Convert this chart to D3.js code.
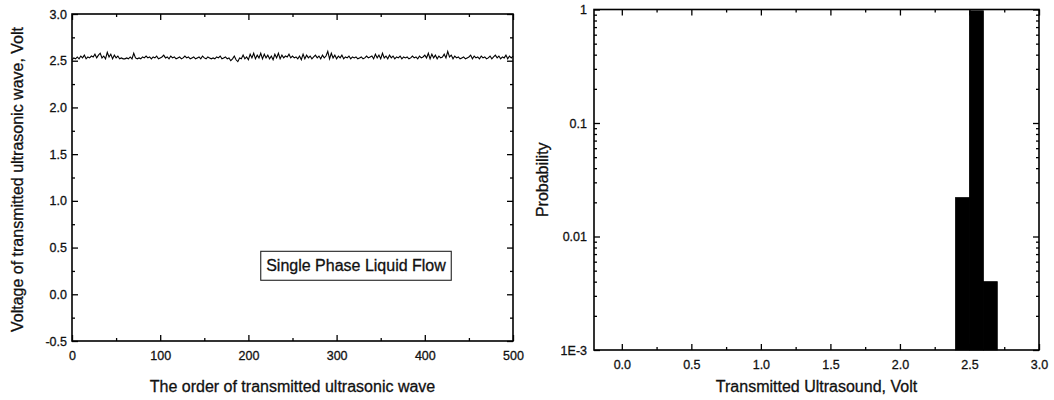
<!DOCTYPE html>
<html>
<head>
<meta charset="utf-8">
<script src="https://cdn.jsdelivr.net/npm/d3@7/dist/d3.min.js"></script>
<style>
  body { margin: 0; background: #fff; }
  svg { display: block; font-family: "Liberation Sans", Arial, sans-serif; }
  text { fill: #111; stroke: #111; stroke-width: 0.3px; }
</style>
</head>
<body>
<div id="chart"></div>
<script>
// Left panel: transmitted wave voltage, sampled every 2nd wave (0..500)
const waveStep = 2;
const waveVolts = [
  2.51,2.53,2.52,2.54,2.52,2.55,2.53,2.56,2.52,2.54,
  2.53,2.55,2.54,2.57,2.53,2.56,2.58,2.53,2.55,2.52,
  2.59,2.54,2.57,2.52,2.56,2.53,2.55,2.52,2.53,2.52,
  2.52,2.53,2.52,2.54,2.52,2.58,2.53,2.52,2.53,2.52,
  2.54,2.53,2.55,2.53,2.54,2.52,2.54,2.53,2.55,2.52,
  2.53,2.54,2.56,2.53,2.54,2.52,2.55,2.53,2.54,2.52,
  2.53,2.54,2.52,2.53,2.55,2.53,2.54,2.52,2.53,2.54,
  2.52,2.53,2.54,2.52,2.55,2.53,2.52,2.54,2.53,2.52,
  2.53,2.52,2.54,2.53,2.55,2.52,2.53,2.54,2.52,2.53,
  2.50,2.52,2.55,2.51,2.49,2.53,2.52,2.56,2.52,2.54,
  2.51,2.57,2.53,2.58,2.52,2.56,2.53,2.58,2.52,2.57,
  2.53,2.56,2.52,2.55,2.51,2.57,2.53,2.58,2.52,2.56,
  2.53,2.55,2.54,2.57,2.53,2.55,2.53,2.54,2.52,2.55,
  2.51,2.57,2.52,2.56,2.53,2.55,2.52,2.54,2.56,2.53,
  2.55,2.52,2.56,2.53,2.55,2.60,2.52,2.58,2.53,2.56,
  2.52,2.55,2.53,2.56,2.52,2.54,2.53,2.55,2.52,2.54,
  2.53,2.54,2.52,2.53,2.54,2.52,2.53,2.55,2.53,2.54,
  2.55,2.52,2.57,2.53,2.56,2.52,2.58,2.53,2.55,2.52,
  2.56,2.53,2.55,2.52,2.54,2.53,2.55,2.52,2.54,2.53,
  2.54,2.52,2.53,2.55,2.53,2.54,2.52,2.55,2.53,2.54,
  2.56,2.53,2.58,2.52,2.57,2.53,2.56,2.52,2.55,2.53,
  2.54,2.57,2.53,2.60,2.54,2.56,2.52,2.55,2.53,2.54,
  2.52,2.53,2.54,2.52,2.53,2.54,2.56,2.52,2.55,2.53,
  2.54,2.52,2.55,2.53,2.54,2.52,2.53,2.55,2.52,2.54,
  2.56,2.53,2.55,2.52,2.54,2.53,2.56,2.52,2.55,2.53,
  2.55
];
const waveXTicks = [0, 100, 200, 300, 400, 500];
const waveYTicks = [-0.5, 0.0, 0.5, 1.0, 1.5, 2.0, 2.5, 3.0];
const legendText = "Single Phase Liquid Flow";

// Right panel: probability histogram (bin edges in volts)
const binStart = [2.4, 2.5, 2.6];
const binEnd = [2.5, 2.6, 2.7];
const binProb = [0.022, 0.974, 0.004];
const probXTicks = [0.0, 0.5, 1.0, 1.5, 2.0, 2.5, 3.0];
const probYTicks = [0.001, 0.01, 0.1, 1];
const probYLabels = ["1E-3", "0.01", "0.1", "1"];

const width = 1054, height = 400;
const tickFont = 12.5, titleFont = 16;
const svg = d3.select("#chart").append("svg")
  .attr("width", width).attr("height", height);

// ---------- left panel ----------
const L = { left: 72, right: 513, top: 14, bottom: 341 };
const xL = d3.scaleLinear().domain([0, 500]).range([L.left, L.right]);
const yL = d3.scaleLinear().domain([-0.5, 3.0]).range([L.bottom, L.top]);

function styleAxis(g) {
  g.selectAll(".domain").remove();
  g.selectAll(".tick line").attr("stroke", "#000").attr("stroke-width", 1.3);
  g.selectAll("text").attr("font-size", tickFont);
}

// minor ticks first
svg.append("g").attr("transform", `translate(0,${L.bottom})`)
  .call(d3.axisBottom(xL).tickValues(d3.range(50, 500, 100)).tickSize(-3).tickFormat(""))
  .call(styleAxis);
svg.append("g").attr("transform", `translate(0,${L.top})`)
  .call(d3.axisTop(xL).tickValues(d3.range(50, 500, 100)).tickSize(-3).tickFormat(""))
  .call(styleAxis);
svg.append("g").attr("transform", `translate(${L.left},0)`)
  .call(d3.axisLeft(yL).tickValues(d3.range(-0.25, 3.0, 0.5)).tickSize(-3).tickFormat(""))
  .call(styleAxis);
svg.append("g").attr("transform", `translate(${L.right},0)`)
  .call(d3.axisRight(yL).tickValues(d3.range(-0.25, 3.0, 0.5)).tickSize(-3).tickFormat(""))
  .call(styleAxis);

// major ticks
svg.append("g").attr("transform", `translate(0,${L.bottom})`)
  .call(d3.axisBottom(xL).tickValues(waveXTicks).tickSize(-6).tickPadding(10).tickFormat(d3.format("d")))
  .call(styleAxis);
svg.append("g").attr("transform", `translate(0,${L.top})`)
  .call(d3.axisTop(xL).tickValues(waveXTicks).tickSize(-6).tickFormat(""))
  .call(styleAxis);
svg.append("g").attr("transform", `translate(${L.left},0)`)
  .call(d3.axisLeft(yL).tickValues(waveYTicks).tickSize(-6).tickPadding(5).tickFormat(d3.format(".1f")))
  .call(styleAxis)
  .call(g => g.selectAll("text").text(d => d < 0 ? "-0.5" : d3.format(".1f")(d)));
svg.append("g").attr("transform", `translate(${L.right},0)`)
  .call(d3.axisRight(yL).tickValues(waveYTicks).tickSize(-6).tickFormat(""))
  .call(styleAxis);

// frame
svg.append("rect")
  .attr("x", L.left).attr("y", L.top)
  .attr("width", L.right - L.left).attr("height", L.bottom - L.top)
  .attr("fill", "none").attr("stroke", "#000").attr("stroke-width", 1.6);

// wave line
const line = d3.line()
  .x((d, i) => xL(i * waveStep))
  .y(d => yL(d));
svg.append("path")
  .datum(waveVolts)
  .attr("d", line)
  .attr("fill", "none")
  .attr("stroke", "#000")
  .attr("stroke-width", 1.1);

// legend box
const box = { x0: 214, x1: 430, y0: 0.46, y1: 0.15 };
const lg = svg.append("g");
lg.append("rect")
  .attr("x", xL(box.x0)).attr("y", yL(box.y0))
  .attr("width", xL(box.x1) - xL(box.x0)).attr("height", yL(box.y1) - yL(box.y0))
  .attr("fill", "#fff").attr("stroke", "#222").attr("stroke-width", 1.1);
lg.append("text")
  .attr("x", (xL(box.x0) + xL(box.x1)) / 2).attr("y", (yL(box.y0) + yL(box.y1)) / 2)
  .attr("dy", "0.35em").attr("text-anchor", "middle")
  .attr("font-size", titleFont)
  .text(legendText);

// axis titles
svg.append("text")
  .attr("x", (L.left + L.right) / 2).attr("y", 386)
  .attr("dy", "0.35em").attr("text-anchor", "middle")
  .attr("font-size", titleFont)
  .text("The order of transmitted ultrasonic wave");
svg.append("text")
  .attr("transform", `translate(17,${(L.top + L.bottom) / 2 + 2}) rotate(-90)`)
  .attr("dy", "0.35em").attr("text-anchor", "middle")
  .attr("font-size", titleFont)
  .text("Voltage of transmitted ultrasonic wave, Volt");

// ---------- right panel ----------
const R = { left: 594, right: 1039, top: 9.5, bottom: 350 };
const xR = d3.scaleLinear().domain([-0.2, 3.0]).range([R.left, R.right]);
const yR = d3.scaleLog().domain([0.001, 1]).range([R.bottom, R.top]);

const minorLog = [];
[0.001, 0.01, 0.1].forEach(dec => { for (let k = 2; k <= 9; k++) minorLog.push(dec * k); });
const minorX = d3.range(-0.25, 3.0, 0.5).filter(v => v > -0.2);

// bars
svg.append("g").selectAll("rect")
  .data(binProb)
  .join("rect")
  .attr("x", (d, i) => xR(binStart[i]))
  .attr("width", (d, i) => xR(binEnd[i]) - xR(binStart[i]))
  .attr("y", d => yR(Math.min(d, 1)))
  .attr("height", d => yR(0.001) - yR(Math.min(d, 1)))
  .attr("fill", "#000")
  .attr("stroke", "#000")
  .attr("stroke-width", 0.8);

svg.append("g").attr("transform", `translate(0,${R.bottom})`)
  .call(d3.axisBottom(xR).tickValues(minorX).tickSize(-3).tickFormat(""))
  .call(styleAxis);
svg.append("g").attr("transform", `translate(0,${R.top})`)
  .call(d3.axisTop(xR).tickValues(minorX).tickSize(-3).tickFormat(""))
  .call(styleAxis);
svg.append("g").attr("transform", `translate(${R.left},0)`)
  .call(d3.axisLeft(yR).tickValues(minorLog).tickSize(-3).tickFormat(""))
  .call(styleAxis);
svg.append("g").attr("transform", `translate(${R.right},0)`)
  .call(d3.axisRight(yR).tickValues(minorLog).tickSize(-3).tickFormat(""))
  .call(styleAxis);

svg.append("g").attr("transform", `translate(0,${R.bottom})`)
  .call(d3.axisBottom(xR).tickValues(probXTicks).tickSize(-6).tickPadding(10).tickFormat(d3.format(".1f")))
  .call(styleAxis);
svg.append("g").attr("transform", `translate(0,${R.top})`)
  .call(d3.axisTop(xR).tickValues(probXTicks).tickSize(-6).tickFormat(""))
  .call(styleAxis);
svg.append("g").attr("transform", `translate(${R.left},0)`)
  .call(d3.axisLeft(yR).tickValues(probYTicks).tickSize(-6).tickPadding(7)
    .tickFormat((d, i) => probYLabels[i]))
  .call(styleAxis);
svg.append("g").attr("transform", `translate(${R.right},0)`)
  .call(d3.axisRight(yR).tickValues(probYTicks).tickSize(-6).tickFormat(""))
  .call(styleAxis);

svg.append("rect")
  .attr("x", R.left).attr("y", R.top)
  .attr("width", R.right - R.left).attr("height", R.bottom - R.top)
  .attr("fill", "none").attr("stroke", "#000").attr("stroke-width", 1.6);

svg.append("text")
  .attr("x", (R.left + R.right) / 2).attr("y", 386)
  .attr("dy", "0.35em").attr("text-anchor", "middle")
  .attr("font-size", titleFont)
  .text("Transmitted Ultrasound, Volt");
svg.append("text")
  .attr("transform", `translate(542,${(R.top + R.bottom) / 2}) rotate(-90)`)
  .attr("dy", "0.35em").attr("text-anchor", "middle")
  .attr("font-size", titleFont)
  .text("Probability");
</script>
</body>
</html>
